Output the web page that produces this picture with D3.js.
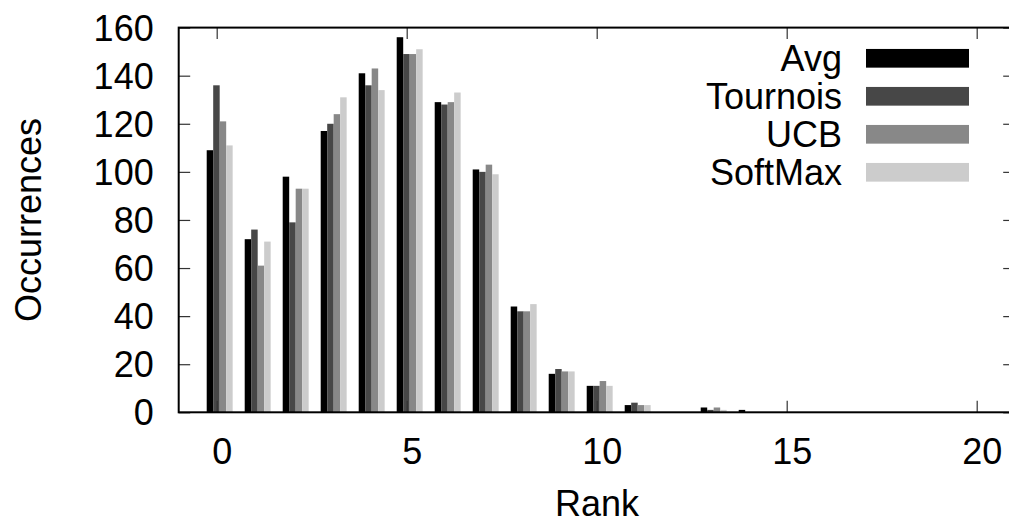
<!DOCTYPE html>
<html>
<head>
<meta charset="utf-8">
<script src="https://cdn.jsdelivr.net/npm/d3@7"></script>
<style>
  html, body { margin: 0; padding: 0; background: #fff; }
  svg { display: block; }
  text { font-family: "Liberation Sans", Arial, Helvetica, sans-serif; fill: #000; }
</style>
</head>
<body>
<svg id="chart" width="1009" height="524"></svg>
<script>
// ---- data ----
const ranks = d3.range(0, 21);
const seriesNames = ["Avg", "Tournois", "UCB", "SoftMax"];
const avgValues      = [109, 72, 98, 117, 141, 156, 129, 101, 44, 16, 11, 3, 0, 2, 1, 0, 0, 0, 0, 0, 0];
const tournoisValues = [136, 76, 79, 120, 136, 149, 128, 100, 42, 18, 11, 4, 0, 1, 0, 0, 0, 0, 0, 0, 0];
const ucbValues      = [121, 61, 93, 124, 143, 149, 129, 103, 42, 17, 13, 3, 0, 2, 0, 0, 0, 0, 0, 0, 0];
const softmaxValues  = [111, 71, 93, 131, 134, 151, 133, 99, 45, 17, 11, 3, 0, 1, 0, 0, 0, 0, 0, 0, 0];
const xTickValues = [0, 5, 10, 15, 20];
const yTickValues = [0, 20, 40, 60, 80, 100, 120, 140, 160];
const seriesColors = ["#000000", "#474747", "#888888", "#cccccc"];

const allSeries = [avgValues, tournoisValues, ucbValues, softmaxValues];

// ---- layout ----
const svg = d3.select("#chart");
const FONT = 36;
const x = d3.scaleLinear().domain([-1, 21]).range([178.7, 1014.7]);
const y = d3.scaleLinear().domain([0, 160]).range([412.3, 27.6]);

const unit = x(1) - x(0);
const sub = d3.scaleBand().domain(seriesNames)
  .range([-0.263 * unit, 0.42 * unit]).paddingInner(0).paddingOuter(0);

// ---- bars ----
const barsG = svg.append("g");
seriesNames.forEach((name, si) => {
  barsG.selectAll(null)
    .data(ranks.map(r => ({ r, v: allSeries[si][r] })))
    .join("rect")
    .attr("x", d => x(d.r) + sub(name))
    .attr("y", d => y(d.v))
    .attr("width", sub.bandwidth())
    .attr("height", d => y(0) - y(d.v))
    .attr("fill", seriesColors[si]);
});

// ---- axes ----
const tickLen = 11.5;
function styleAxis(g) {
  g.select(".domain").remove();
  g.selectAll(".tick line").attr("stroke", "#333").attr("stroke-width", 1.2);
  g.selectAll("text").attr("font-size", FONT).attr("font-family", '"Liberation Sans", Arial, sans-serif');
}

const yLeft = svg.append("g").attr("transform", `translate(${x(-1)},0)`)
  .call(d3.axisLeft(y).tickValues(yTickValues).tickSizeInner(-tickLen).tickSizeOuter(0).tickPadding(25))
  .call(styleAxis);
yLeft.selectAll("text").attr("dy", "0.35em");

svg.append("g").attr("transform", `translate(${x(21)},0)`)
  .call(d3.axisRight(y).tickValues(yTickValues).tickSizeInner(-tickLen).tickSizeOuter(0).tickFormat(""))
  .call(styleAxis);

const xBottom = svg.append("g").attr("transform", `translate(0,${y(0)})`)
  .call(d3.axisBottom(x).tickValues(xTickValues).tickSizeInner(-tickLen).tickSizeOuter(0).tickPadding(26))
  .call(styleAxis);
xBottom.selectAll("text").attr("dx", 5);

svg.append("g").attr("transform", `translate(0,${y(160)})`)
  .call(d3.axisTop(x).tickValues(xTickValues).tickSizeInner(-tickLen).tickSizeOuter(0).tickFormat(""))
  .call(styleAxis);

// ---- border ----
svg.append("rect")
  .attr("x", x(-1)).attr("y", y(160))
  .attr("width", x(21) - x(-1)).attr("height", y(0) - y(160))
  .attr("fill", "none").attr("stroke", "#000").attr("stroke-width", 2);

// ---- axis titles ----
svg.append("text")
  .attr("transform", "translate(41,220) rotate(-90)")
  .attr("text-anchor", "middle").attr("font-size", FONT)
  .text("Occurrences");

svg.append("text")
  .attr("x", 597).attr("y", 516)
  .attr("text-anchor", "middle").attr("font-size", FONT)
  .text("Rank");

// ---- legend ----
const legend = svg.append("g");
const legendY = d3.scalePoint().domain(seriesNames).range([58.3, 172.3]);
seriesNames.forEach((name, i) => {
  const cy = legendY(name);
  legend.append("rect")
    .attr("x", 866).attr("y", cy - 9.35)
    .attr("width", 103).attr("height", 18.7)
    .attr("fill", seriesColors[i]);
  legend.append("text")
    .attr("x", 842).attr("y", cy + 12.5)
    .attr("text-anchor", "end").attr("font-size", FONT)
    .text(name);
});
</script>
</body>
</html>
